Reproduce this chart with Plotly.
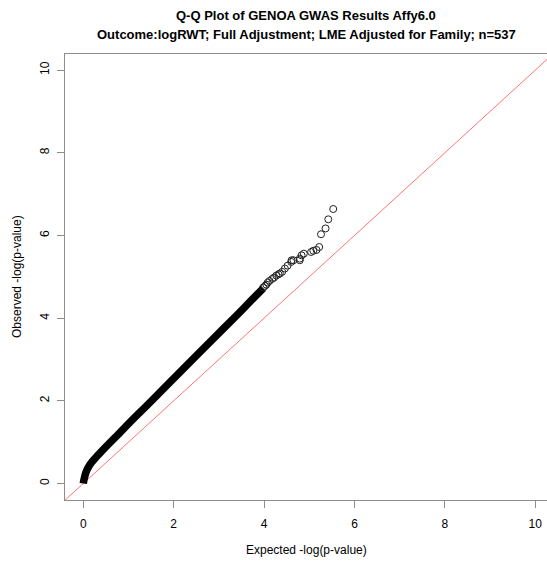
import plotly.graph_objects as go

# Dense part of the Q-Q curve: expected vs observed -log10(p)
dense_expected = [0.0, 0.02, 0.07, 0.15, 0.27, 0.44, 0.80, 1.15, 1.52, 2.20, 2.90, 3.35, 3.70, 3.98]
dense_observed = [0.0, 0.12, 0.30, 0.46, 0.62, 0.82, 1.22, 1.61, 2.01, 2.76, 3.53, 4.02, 4.41, 4.72]

# Sparse tail points (individual circles)
tail_expected = [3.98, 4.02, 4.05, 4.08, 4.12, 4.18, 4.22, 4.27, 4.32, 4.35, 4.40, 4.46, 4.52, 4.60, 4.61, 4.65,
                 4.79, 4.79, 4.83, 4.88, 5.04, 5.09, 5.16, 5.22, 5.26, 5.36, 5.42, 5.53]
tail_observed = [4.74, 4.78, 4.81, 4.86, 4.90, 4.95, 4.98, 5.03, 5.06, 5.08, 5.12, 5.20, 5.27, 5.36, 5.40, 5.40,
                 5.40, 5.44, 5.52, 5.56, 5.60, 5.63, 5.65, 5.72, 6.03, 6.17, 6.39, 6.64]

diag = [-1, 11]
tick_vals = [0, 2, 4, 6, 8, 10]

FONT = "Liberation Sans, Arial, Helvetica, sans-serif"

fig = go.Figure()
fig.add_trace(go.Scatter(x=diag, y=diag, mode="lines",
                         line=dict(color="rgba(255,0,0,0.55)", width=1),
                         hoverinfo="skip", showlegend=False))
fig.add_trace(go.Scatter(x=dense_expected, y=dense_observed, mode="lines",
                         line=dict(color="black", width=7.5, shape="spline", smoothing=0.8),
                         showlegend=False))
fig.add_trace(go.Scatter(x=tail_expected, y=tail_observed, mode="markers",
                         marker=dict(symbol="circle-open", size=7,
                                     color="#222", line=dict(width=1, color="#222")),
                         showlegend=False))

axis_common = dict(
    showgrid=False, zeroline=False, showline=True, linecolor="#8c8c8c", linewidth=1,
    ticks="outside", ticklen=7, tickcolor="#8c8c8c", tickwidth=1,
    tickvals=tick_vals, tickfont=dict(family=FONT, size=12, color="black"),
)

fig.update_layout(
    width=547, height=562,
    margin=dict(l=65, r=0, t=54, b=62),
    paper_bgcolor="white", plot_bgcolor="white",
    xaxis=dict(range=[-0.405, 10.26], mirror=True, ticklabelstandoff=6, **axis_common),
    yaxis=dict(range=[-0.40, 10.39], tickangle=-90, ticklabelstandoff=3, **axis_common),
    font=dict(family=FONT, color="black"),
    annotations=[
        dict(text="<b>Q-Q Plot of GENOA GWAS Results Affy6.0</b>", xref="paper", yref="paper",
             x=0.5, y=(500 - 15) / 446, xanchor="center", yanchor="middle",
             showarrow=False, font=dict(size=13, family=FONT)),
        dict(text="<b>Outcome:logRWT; Full Adjustment; LME Adjusted for Family; n=537</b>",
             xref="paper", yref="paper",
             x=0.5, y=(500 - 34) / 446, xanchor="center", yanchor="middle",
             showarrow=False, font=dict(size=13, family=FONT)),
        dict(text="Expected -log(p-value)", xref="paper", yref="paper",
             x=0.5, y=(500 - 550) / 446, xanchor="center", yanchor="middle",
             showarrow=False, font=dict(size=12, family=FONT)),
        dict(text="Observed -log(p-value)", xref="paper", yref="paper",
             x=(17 - 65) / 482, y=(500 - 277) / 446, xanchor="center", yanchor="middle",
             textangle=-90, showarrow=False, font=dict(size=12, family=FONT)),
    ],
)

fig.write_html("out.html")
